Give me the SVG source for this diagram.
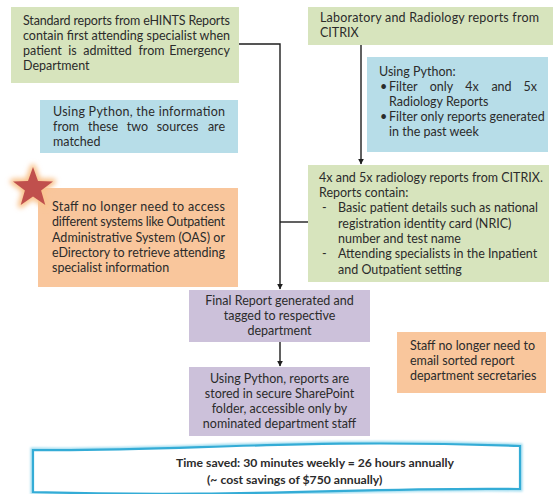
<svg xmlns="http://www.w3.org/2000/svg" width="555" height="494" viewBox="0 0 555 494">
<style>
.t{font-family:Lato,"Open Sans","Liberation Sans",sans-serif;font-size:12.5px;fill:#2b2b2b}
.b{font-weight:bold;font-size:12.2px}
.c{text-anchor:middle}
.e{text-anchor:end}
.green{fill:#d7e4bd}
.blue{fill:#b7dde8}
.orange{fill:#f9c69c}
.purple{fill:#ccc1da}
.line{stroke:#1e1e1e;stroke-width:1.4;fill:none}
</style>
<defs>
<marker id="ah" viewBox="0 0 10 10" refX="9" refY="5" markerWidth="6" markerHeight="6" orient="auto" markerUnits="userSpaceOnUse">
<path d="M0,0 L10,5 L0,10 z" fill="#1e1e1e"/>
</marker>
<filter id="glow" x="-50%" y="-50%" width="200%" height="200%">
<feGaussianBlur stdDeviation="2.5"/>
</filter>
<filter id="soft" x="-5%" y="-30%" width="110%" height="160%">
<feGaussianBlur stdDeviation="1.2"/>
</filter>
</defs>
<rect width="555" height="494" fill="#ffffff"/>

<g id="connectors">
<polyline class="line" points="239,44 280,44 280,289" marker-end="url(#ah)"/>
<line class="line" x1="280" y1="222" x2="308" y2="222"/>
<line class="line" x1="361" y1="45" x2="361" y2="164" marker-end="url(#ah)"/>
<line class="line" x1="280" y1="342" x2="280" y2="366" marker-end="url(#ah)"/>
</g>

<g id="ehints">
<rect class="green" x="11" y="7" width="228" height="76"/>
<text class="t" x="23" y="25" textLength="207" lengthAdjust="spacing">Standard reports from eHINTS Reports</text>
<text class="t" x="23" y="40" textLength="207" lengthAdjust="spacing">contain first attending specialist when</text>
<text class="t" x="23" y="55">patient</text>
<text class="t c" x="72.5" y="55">is</text>
<text class="t c" x="107.5" y="55">admitted</text>
<text class="t c" x="151.5" y="55">from</text>
<text class="t e" x="230" y="55">Emergency</text>
<text class="t" x="23" y="70">Department</text>
</g>

<g id="citrix">
<rect class="green" x="308" y="7" width="245" height="38"/>
<text class="t" x="320" y="22" textLength="219" lengthAdjust="spacing">Laboratory and Radiology reports from</text>
<text class="t" x="320" y="37">CITRIX</text>
</g>

<g id="python-filter">
<rect class="blue" x="367" y="57" width="181" height="95"/>
<text class="t" x="379" y="76">Using Python:</text>
<text class="t" x="380" y="91">•</text>
<text class="t" x="389" y="91">Filter</text>
<text class="t c" x="441.5" y="91">only</text>
<text class="t c" x="472" y="91">4x</text>
<text class="t c" x="501.5" y="91">and</text>
<text class="t e" x="537" y="91">5x</text>
<text class="t" x="389" y="106">Radiology Reports</text>
<text class="t" x="380" y="121">•</text>
<text class="t" x="389" y="121">Filter only reports generated</text>
<text class="t" x="389" y="136">in the past week</text>
</g>

<g id="python-match">
<rect class="blue" x="40" y="100" width="198" height="53"/>
<text class="t" x="53" y="116" textLength="172" lengthAdjust="spacing">Using Python, the information</text>
<text class="t" x="53" y="131">from</text>
<text class="t c" x="103" y="131">these</text>
<text class="t c" x="137.5" y="131">two</text>
<text class="t c" x="177.5" y="131">sources</text>
<text class="t e" x="225" y="131">are</text>
<text class="t" x="53" y="146">matched</text>
</g>

<g id="staff-access">
<rect class="orange" x="38" y="188" width="200" height="99"/>
<text class="t" x="52" y="211" textLength="173" lengthAdjust="spacing">Staff no longer need to access</text>
<text class="t" x="52" y="226" textLength="173" lengthAdjust="spacing">different systems like Outpatient</text>
<text class="t" x="52" y="242" textLength="173" lengthAdjust="spacing">Administrative System (OAS) or</text>
<text class="t" x="52" y="257" textLength="173" lengthAdjust="spacing">eDirectory to retrieve attending</text>
<text class="t" x="52" y="272">specialist information</text>
</g>

<g id="star">
<polygon points="33,167 38,181.1 53,181.5 41.1,190.6 45.3,205 33,196.5 20.7,205 24.9,190.6 13,181.5 28,181.1" fill="#f7b57a" stroke="#f9c48f" stroke-width="6" stroke-linejoin="round" filter="url(#glow)"/>
<polygon points="33,167 38,181.1 53,181.5 41.1,190.6 45.3,205 33,196.5 20.7,205 24.9,190.6 13,181.5 28,181.1" fill="#c0504d"/>
</g>

<g id="radiology">
<rect class="green" x="308" y="165" width="241" height="117"/>
<text class="t" x="319" y="182">4x and 5x radiology reports from CITRIX.</text>
<text class="t" x="319" y="197">Reports contain:</text>
<text class="t" x="322" y="212">-</text>
<text class="t" x="338" y="212">Basic patient details such as national</text>
<text class="t" x="338" y="228">registration identity card (NRIC)</text>
<text class="t" x="338" y="243">number and test name</text>
<text class="t" x="322" y="258">-</text>
<text class="t" x="338" y="258">Attending specialists in the Inpatient</text>
<text class="t" x="338" y="274">and Outpatient setting</text>
</g>

<g id="final-report">
<rect class="purple" x="189" y="290" width="181" height="52"/>
<text class="t c" x="279.5" y="305">Final Report generated and</text>
<text class="t c" x="279.5" y="320">tagged to respective</text>
<text class="t c" x="279.5" y="335">department</text>
</g>

<g id="sharepoint">
<rect class="purple" x="189" y="367" width="181" height="69"/>
<text class="t c" x="279.5" y="383">Using Python, reports are</text>
<text class="t c" x="279.5" y="398">stored in secure SharePoint</text>
<text class="t c" x="279.5" y="413">folder, accessible only by</text>
<text class="t c" x="279.5" y="428">nominated department staff</text>
</g>

<g id="staff-email">
<rect class="orange" x="397" y="332" width="149" height="61"/>
<text class="t" x="410" y="350">Staff no longer need to</text>
<text class="t" x="410" y="365">email sorted report</text>
<text class="t" x="410" y="380">department secretaries</text>
</g>

<g id="time-saved">
<path d="M33,450 C180,452 290,438 520,446 L520,489 C360,487 250,498 33,492 Z" fill="none" stroke="#9fdcef" stroke-width="5" filter="url(#soft)"/>
<path d="M33,450 C180,452 290,438 520,446 L520,489 C360,487 250,498 33,492 Z" fill="#ffffff" stroke="#34acd6" stroke-width="2.2"/>
<text class="t b" x="176" y="467">Time saved: 30 minutes weekly = 26 hours annually</text>
<text class="t b" x="207" y="484">(~ cost savings of $750 annually)</text>
</g>
</svg>
